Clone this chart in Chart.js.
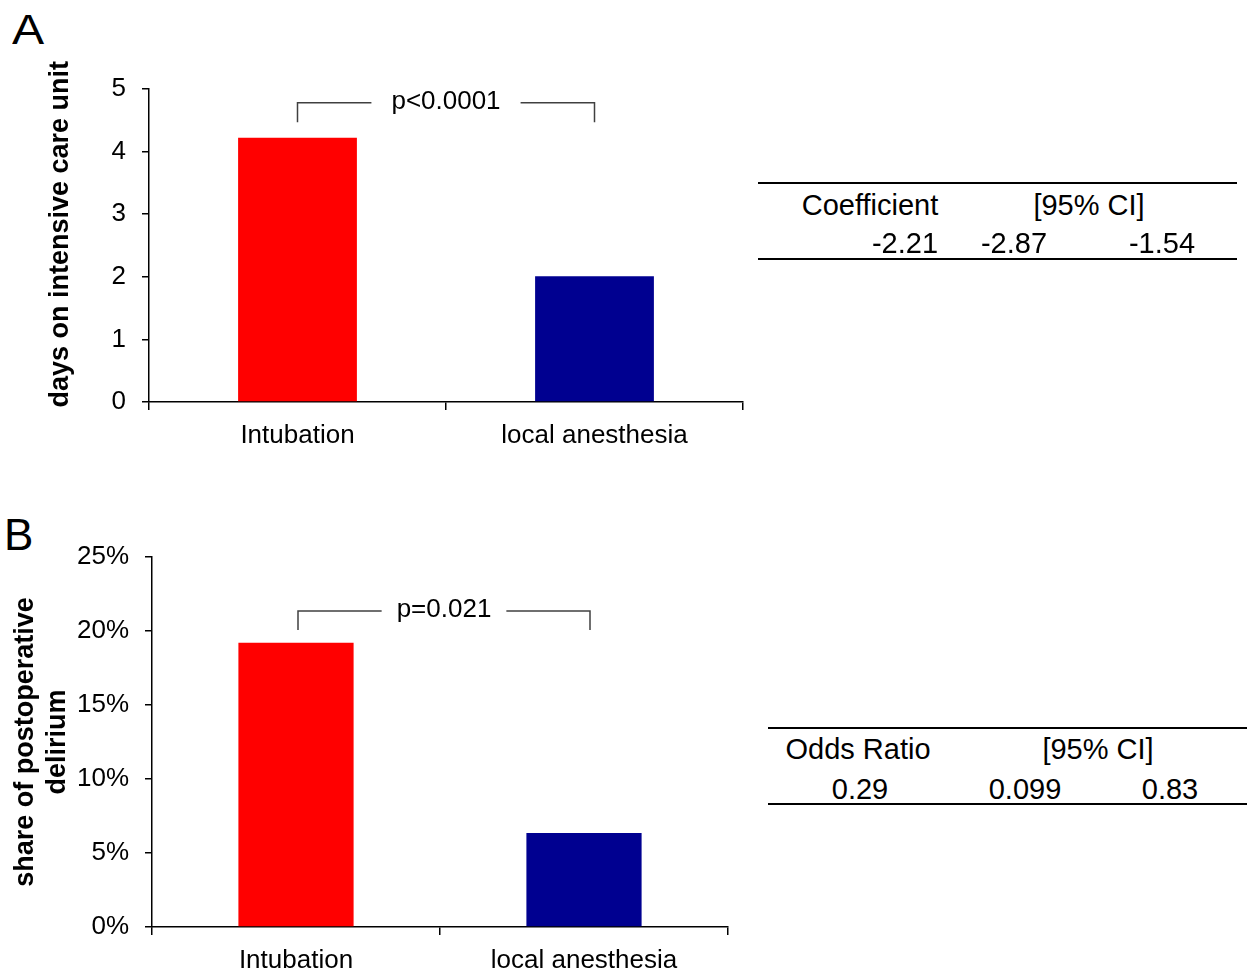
<!DOCTYPE html>
<html>
<head>
<meta charset="utf-8">
<script src="https://cdn.jsdelivr.net/npm/chart.js@4.4.1/dist/chart.umd.min.js"></script>
<style>
  html, body { margin: 0; padding: 0; background: #fff; }
  #page { position: relative; width: 1249px; height: 969px; overflow: hidden;
          font-family: "Liberation Sans", Arial, sans-serif; color: #000; }
  canvas { position: absolute; left: 0; }
  #chartA { top: 0; }
  #chartB { top: 480px; }
  .letter { position: absolute; line-height: 1; }
  .cell { position: absolute; font-size: 29px; line-height: 1; white-space: nowrap; transform: translateX(-50%); }
  .rule { position: absolute; height: 2px; background: #000; }
</style>
</head>
<body>
<div id="page">
  <div class="letter" style="left:12px; top:8px; font-size:43px; transform:scaleX(1.12); transform-origin:left top;">A</div>
  <div class="letter" style="left:4px; top:513px; font-size:44px;">B</div>
  <canvas id="chartA" width="760" height="470"></canvas>
  <canvas id="chartB" width="760" height="489"></canvas>
</div>
<script>
// ===== 数据 =====
const CATEGORIES = ["Intubation", "local anesthesia"];
const BAR_COLORS = ["#ff0000", "#000090"];

const ICU_DAYS = [4.22, 2.01];            // A: days on intensive care unit
const DELIRIUM_PCT = [19.2, 6.35];        // B: share of postoperative delirium (%)

const A_TICKS = [0, 1, 2, 3, 4, 5];
const B_TICKS = [0, 5, 10, 15, 20, 25];

const P_VALUE_A = "p<0.0001";
const P_VALUE_B = "p=0.021";

const TABLE_A_HEAD = ["Coefficient", "[95% CI]"];
const TABLE_A_ROW = ["-2.21", "-2.87", "-1.54"];
const TABLE_B_HEAD = ["Odds Ratio", "[95% CI]"];
const TABLE_B_ROW = ["0.29", "0.099", "0.83"];

const FONT = '"Liberation Sans", Arial, sans-serif';

// 显著性括号
const bracketPlugin = {
  id: "bracket",
  afterDatasetsDraw(chart, args, o) {
    if (!o || !o.text) return;
    const { ctx, scales: { x, y } } = chart;
    const x1 = x.getPixelForValue(0) + (o.dx1 || 0), x2 = x.getPixelForValue(1) + (o.dx2 || 0);
    const yTop = y.getPixelForValue(o.top), yBot = y.getPixelForValue(o.bottom);
    const xm = (x1 + x2) / 2;
    ctx.save();
    ctx.font = "26px " + FONT;
    const tw = ctx.measureText(o.text).width;
    ctx.strokeStyle = "#404040";
    ctx.lineWidth = 1.5;
    ctx.beginPath();
    ctx.moveTo(x1, yBot); ctx.lineTo(x1, yTop); ctx.lineTo(xm - tw / 2 - o.gap, yTop);
    ctx.moveTo(xm + tw / 2 + o.gap, yTop); ctx.lineTo(x2, yTop); ctx.lineTo(x2, yBot);
    ctx.stroke();
    ctx.fillStyle = "#000";
    ctx.textAlign = "center";
    ctx.textBaseline = "middle";
    ctx.fillText(o.text, xm, yTop - 1);
    ctx.restore();
  }
};

function makeBarChart(id, values, cfg) {
  return new Chart(document.getElementById(id), {
    type: "bar",
    data: {
      labels: CATEGORIES,
      datasets: [{ data: values, backgroundColor: BAR_COLORS, borderWidth: 0,
                   barPercentage: 0.4, categoryPercentage: 1 }]
    },
    plugins: [bracketPlugin],
    options: {
      responsive: false,
      animation: false,
      layout: { padding: { top: cfg.padTop, right: cfg.padRight, bottom: 0, left: 0 } },
      plugins: {
        legend: { display: false },
        tooltip: { enabled: false },
        bracket: cfg.bracket
      },
      scales: {
        x: {
          afterFit: (s) => { s.height = cfg.xHeight; },
          grid: { drawOnChartArea: false, tickLength: 8, color: "#000", lineWidth: 1.5, offset: true },
          border: { color: "#000", width: 1.5 },
          ticks: { color: "#000", font: { family: FONT, size: 26 }, padding: 10, maxRotation: 0 }
        },
        y: {
          min: 0,
          max: cfg.ticks[cfg.ticks.length - 1],
          afterFit: (s) => { s.width = cfg.yWidth; },
          afterBuildTicks: (s) => { s.ticks = cfg.ticks.map((v) => ({ value: v })); },
          grid: { drawOnChartArea: false, tickLength: 7, color: "#000", lineWidth: 1.5 },
          border: { color: "#000", width: 1.5 },
          ticks: { color: "#000", font: { family: FONT, size: 26 }, padding: 16,
                   callback: cfg.tickFmt },
          title: {
            display: true,
            text: cfg.title,
            color: "#000",
            font: { family: FONT, size: 27, weight: "bold", lineHeight: cfg.titleLH },
            padding: { top: cfg.titlePad, bottom: 0 }
          }
        }
      }
    }
  });
}

makeBarChart("chartA", ICU_DAYS, {
  padTop: 89, padRight: 17, xHeight: 68, yWidth: 149,
  ticks: A_TICKS, tickFmt: (v) => String(v),
  // 前置空格让标题整体略微上移，对齐原图
  title: "   days on intensive care unit", titleLH: 1.2, titlePad: 44,
  bracket: { text: P_VALUE_A, top: 4.78, bottom: 4.47, gap: 20 }
});

makeBarChart("chartB", DELIRIUM_PCT, {
  padTop: 77, padRight: 32, xHeight: 42, yWidth: 152,
  ticks: B_TICKS, tickFmt: (v) => v + "%",
  title: ["share of postoperative", "delirium"], titleLH: 1.2, titlePad: 9,
  bracket: { text: P_VALUE_B, top: 21.35, bottom: 20.07, gap: 15, dx1: 2, dx2: 6 }
});

// ===== 右侧表格 =====
function addRule(x1, x2, y) {
  const d = document.createElement("div");
  d.className = "rule";
  d.style.left = x1 + "px";
  d.style.width = (x2 - x1) + "px";
  d.style.top = (y - 1) + "px";
  document.getElementById("page").appendChild(d);
}
function addCell(text, cx, top) {
  const d = document.createElement("div");
  d.className = "cell";
  d.textContent = text;
  d.style.left = cx + "px";
  d.style.top = top + "px";
  document.getElementById("page").appendChild(d);
}

addRule(758, 1237, 183);
addRule(758, 1237, 259);
addCell(TABLE_A_HEAD[0], 870, 191);
addCell(TABLE_A_HEAD[1], 1089, 191);
[905, 1014, 1162].forEach((cx, i) => addCell(TABLE_A_ROW[i], cx, 229));

addRule(768, 1247, 728);
addRule(768, 1247, 804);
addCell(TABLE_B_HEAD[0], 858, 735);
addCell(TABLE_B_HEAD[1], 1098, 735);
[860, 1025, 1170].forEach((cx, i) => addCell(TABLE_B_ROW[i], cx, 775));
</script>
</body>
</html>
